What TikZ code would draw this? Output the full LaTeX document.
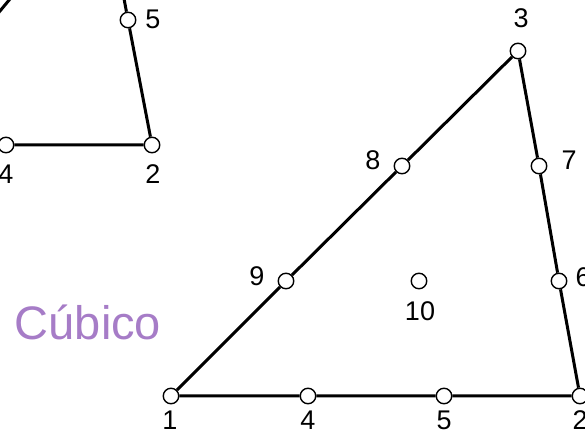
\documentclass[tikz,border=0pt]{standalone}
\usepackage{fontspec}
\setmainfont{Liberation Sans}
\definecolor{ink}{HTML}{000000}
\definecolor{lilac}{HTML}{A67CC7}

\begin{document}
\begin{tikzpicture}[
  x=1pt,y=1pt,
  nodo/.style={circle,draw=ink,fill=white,line width=1.4pt,minimum size=15.5pt,inner sep=0pt},
  num/.style={font=\fontsize{27}{30}\selectfont,text=ink,inner sep=0pt},
  lado/.style={line width=3pt,draw=ink},
  tipo/.style={font=\fontsize{47}{52}\selectfont,text=lilac,inner sep=0pt,anchor=base}
]
\useasboundingbox (0,0) rectangle (585,435);
\clip (0,0) rectangle (585,435);

% Quadratic element, cut by the frame
\coordinate (qa) at (-10,412);
\coordinate (qb) at (20,448);
\coordinate (q3) at (122,447);
\node[nodo] (q4) at (6,290) {};
\node[nodo] (q2) at (152,290) {};
\node[nodo] (q5) at (128,415) {};
\draw[lado] (q4) -- (q2) -- (q5) -- (q3);
\draw[lado] (qa) -- (qb);
\node[num] (tq5) at (153,416) {5};
\node[num] (tq2) at (153,261) {2};
\node[num] (tq4) at (6,261) {4};

% Cubic element
\node[nodo] (n1) at (171,39) {};
\node[nodo] (n4) at (308,39) {};
\node[nodo] (n5) at (444,39) {};
\node[nodo] (n2) at (580,39) {};
\node[nodo] (n6) at (559,154) {};
\node[nodo] (n7) at (539,269) {};
\node[nodo] (n3) at (518,384) {};
\node[nodo] (n8) at (402,269) {};
\node[nodo] (n9) at (286,154) {};
\node[nodo] (n10) at (419,154) {};
\draw[lado] (n1) -- (n4) -- (n5) -- (n2) -- (n6) -- (n7) -- (n3) -- (n8) -- (n9) -- (n1);

\node[num] (t1) at (170,15) {1};
\node[num] (t4) at (308,15) {4};
\node[num] (t5) at (444,15) {5};
\node[num] (t2) at (580,15) {2};
\node[num] (t3) at (521,417) {3};
\node[num] (t8) at (373,275) {8};
\node[num] (t9) at (257,159) {9};
\node[num] (t7) at (569,275) {7};
\node[num] (t6) at (583,158) {6};
\node[num] (t10) at (420,124) {10};

\node[tipo] (cub) at (88,95) {Cúbico};
\end{tikzpicture}
\end{document}
